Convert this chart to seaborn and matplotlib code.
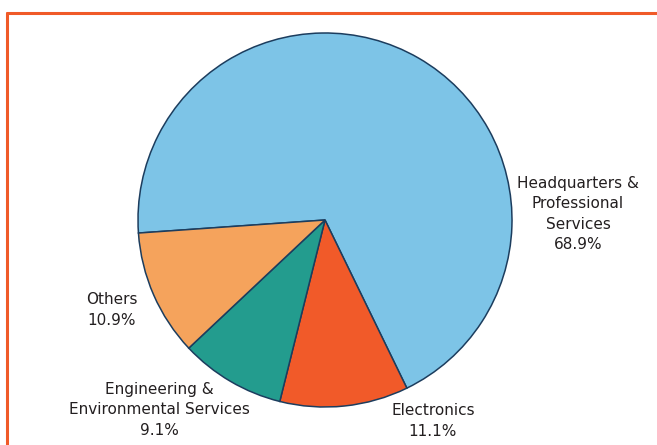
import matplotlib
matplotlib.use("Agg")
import matplotlib.pyplot as plt
from matplotlib.lines import Line2D
import seaborn as sns

# ── Data ──────────────────────────────────────────────────────────────────
sectors = ["Headquarters &\nProfessional\nServices", "Electronics",
           "Engineering &\nEnvironmental Services", "Others"]
shares = [68.9, 11.1, 9.1, 10.9]
colors = ["#7DC4E7", "#F15A29", "#239C8E", "#F5A35C"]

W, H = 657, 445
FRAME = "#F05A28"
EDGE = "#1C3D5E"
TXT = "#231F20"

sns.set_theme(style="white")
plt.rcParams["font.family"] = ["DejaVu Sans"]

fig = plt.figure(figsize=(W / 100, H / 100), dpi=100, facecolor="white")
ax = fig.add_axes([0, 0, 1, 1])

cx, cy, r = 325, H - 220, 187
ax.pie(shares, colors=sns.color_palette(colors), startangle=184,
       counterclock=False, center=(cx, cy), radius=r,
       wedgeprops={"edgecolor": EDGE, "linewidth": 1.1})
ax.set_xlim(0, W)
ax.set_ylim(0, H)
ax.set_aspect("equal")
ax.axis("off")

# label anchors (pixel positions from top-left)
label_pos = [(578, 214), (433, 421), (159, 410), (112, 310)]
for name, val, (x, y) in zip(sectors, shares, label_pos):
    ax.text(x, H - y, f"{name}\n{val:.1f}%", ha="center", va="center",
            fontsize=11, color=TXT, linespacing=1.45)

# orange frame (top and left edges)
fig.add_artist(Line2D([7 / W, 1], [1 - 13 / H, 1 - 13 / H],
                      color=FRAME, lw=2.2, transform=fig.transFigure))
fig.add_artist(Line2D([7 / W, 7 / W], [0, 1 - 13 / H],
                      color=FRAME, lw=2.2, transform=fig.transFigure))

fig.savefig("out.png", dpi=100, facecolor="white")
